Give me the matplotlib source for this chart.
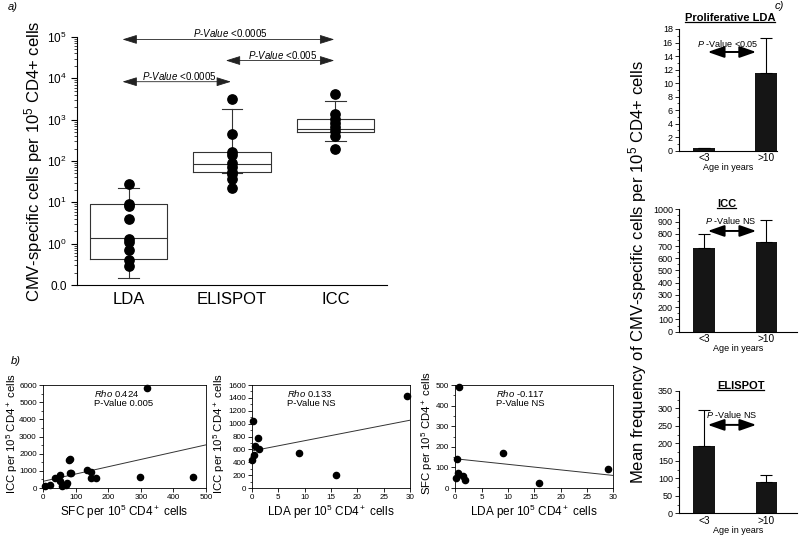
import numpy as np
import matplotlib
matplotlib.use('Agg')
import matplotlib.pyplot as plt
from matplotlib.ticker import FixedLocator, FuncFormatter, MultipleLocator, AutoMinorLocator
from matplotlib.lines import Line2D

plt.rcParams['font.family'] = ['Liberation Sans', 'DejaVu Sans']
plt.rcParams['mathtext.fontset'] = 'custom'
plt.rcParams['mathtext.rm'] = 'Liberation Sans'
plt.rcParams['mathtext.it'] = 'Liberation Sans:italic'
plt.rcParams['mathtext.bf'] = 'Liberation Sans:bold'
plt.rcParams['axes.linewidth'] = 0.8

# a) frequencies by method
methods = ['LDA', 'ELISPOT', 'ICC']
lda_vals = [27.5, 8.9, 8.0, 3.9, 1.3, 1.1, 0.71, 0.41, 0.29]
elispot_vals = [3200, 455, 166, 140, 89, 71, 54, 48, 36, 22]
icc_vals = [4300, 1350, 1050, 815, 675, 530, 400, 193]
box_q1 = [0.43, 54, 510]
box_med = [1.4, 85, 600]
box_q3 = [8.9, 166, 1050]
whisk_lo = [0.15, 52, 307]
whisk_hi = [22, 1860, 2900]
comparisons = [(0, 2), (1, 2), (0, 1)]
comp_p = ['<0.0005', '<0.005', '<0.0005']

# b) correlations
sfc_1 = [7, 22, 38, 53, 51, 58, 73, 70, 79, 84, 82, 87, 135, 148, 148, 162, 298, 461, 318]
icc_1 = [135, 155, 580, 774, 420, 110, 290, 200, 1606, 1683, 870, 870, 1025, 910, 580, 580,
         620, 620, 5800]
lda_2 = [0.1, 1.1, 0.6, 1.4, 0.3, 0.0, 8.9, 16.0, 29.5]
icc_2 = [1043, 778, 649, 602, 514, 430, 545, 197, 1432]
lda_3 = [0.8, 0.4, 0.6, 0.2, 1.5, 1.8, 9.0, 16.0, 29.0]
sfc_3 = [489, 142, 74, 50, 56, 37, 171, 24, 90]
rho = ['0.424', '0.133', '-0.117']
pval = ['0.005', 'NS', 'NS']
fit_icpt = [390, 576, 142]
fit_slope = [4.25, 15.9, -2.7]

# c) by age group
age_groups = ['<3', '>10']
prolif_mean = [0.45, 11.5]
prolif_err = [0, 5.1]
icc_mean = [685, 735]
icc_err = [115, 180]
elispot_mean = [192, 89]
elispot_err = [105, 22]
age_p = ['<0.05', 'NS', 'NS']


def log_fmt(v, pos):
    if v < 0.5:
        return '0.0'
    return '$10^{%d}$' % int(round(np.log10(v)))


fig = plt.figure(figsize=(8, 5.39), dpi=100)

# ---------------- a)
ax = fig.add_axes([0.09625, 0.4712, 0.3875, 0.4601])
ax.set_yscale('log')
stats = []
for i in range(3):
    stats.append(dict(med=box_med[i], q1=box_q1[i], q3=box_q3[i],
                      whislo=whisk_lo[i], whishi=whisk_hi[i], fliers=[]))
lp = dict(color='#333333', lw=0.8)
ax.bxp(stats, positions=[1, 2, 3], widths=0.75, capwidths=0.2, showfliers=False,
       boxprops=lp, whiskerprops=lp, capprops=lp, medianprops=lp)
for i, v in enumerate([lda_vals, elispot_vals, icc_vals]):
    ax.scatter(np.full(len(v), i + 1), v, s=45, color='black', zorder=3)
ax.set_xlim(0.5, 3.5)
ax.set_ylim(0.1, 1e5)
ax.yaxis.set_major_locator(FixedLocator([0.1, 1, 10, 100, 1e3, 1e4, 1e5]))
ax.yaxis.set_major_formatter(FuncFormatter(log_fmt))
ax.set_xticks([1, 2, 3])
ax.set_xticklabels(methods, fontsize=12)
ax.tick_params(axis='x', length=0, pad=5)
ax.tick_params(axis='y', labelsize=8.5, length=4, width=0.8)
ax.tick_params(axis='y', which='minor', length=2, width=0.5)
ax.spines['top'].set_visible(False)
ax.spines['right'].set_visible(False)
ax.set_ylabel('CMV-specific cells per $10^5$ CD4+ cells', fontsize=12)
ax.yaxis.set_label_coords(-0.103, 0.5)

arrow_y = [8.75e4, 2.7e4, 8.3e3]
text_y = [1.25e5, 3.7e4, 1.12e4]
for (i, j), p, ya, yt in zip(comparisons, comp_p, arrow_y, text_y):
    ax.annotate('', xy=(j + 0.99, ya), xytext=(i + 0.94, ya),
                arrowprops=dict(arrowstyle='<|-|>,head_length=0.9,head_width=0.28',
                                color='#222222', lw=0.6, mutation_scale=10,
                                shrinkA=0, shrinkB=0), annotation_clip=False)
    xm = (i + 0.94 + j + 0.99) / 2 + 0.02
    ax.text(xm, yt, r'$\mathit{P}$-$\mathit{Value}$ ' + p, ha='center', va='center', fontsize=7)

fig.text(0.01, 0.987, 'a)', style='italic', fontsize=8, va='center')
fig.text(0.013, 0.33, 'b)', style='italic', fontsize=8, va='center')
fig.text(0.968, 0.988, 'c)', style='italic', fontsize=8, va='center')

# ---------------- b)
sc_rects = [[0.0538, 0.0946, 0.2038, 0.1911],
            [0.315, 0.0946, 0.1975, 0.1911],
            [0.569, 0.0946, 0.1975, 0.1911]]
sc_x = [sfc_1, lda_2, lda_3]
sc_y = [icc_1, icc_2, sfc_3]
sc_xlim = [500, 30, 30]
sc_ylim = [6000, 1600, 500]
sc_xstep = [100, 5, 5]
sc_ystep = [1000, 200, 100]
sc_xlab = ['SFC per $10^5$ CD4$^+$ cells', 'LDA per $10^5$ CD4$^+$ cells',
           'LDA per $10^5$ CD4$^+$ cells']
sc_ylab = ['ICC per $10^5$ CD4$^+$ cells', 'ICC per $10^5$ CD4$^+$ cells',
           'SFC per $10^5$ CD4$^+$ cells']
sc_ylab_x = [-0.14, -0.158, -0.13]
sc_txt_x = [0.31, 0.22, 0.26]
for k in range(3):
    ax = fig.add_axes(sc_rects[k])
    ax.scatter(sc_x[k], sc_y[k], s=20, color='black', zorder=3, clip_on=False)
    xx = np.array([0, sc_xlim[k]])
    ax.plot(xx, fit_icpt[k] + fit_slope[k] * xx, color='#333333', lw=0.7)
    ax.set_xlim(0, sc_xlim[k])
    ax.set_ylim(0, sc_ylim[k])
    ax.xaxis.set_major_locator(MultipleLocator(sc_xstep[k]))
    ax.yaxis.set_major_locator(MultipleLocator(sc_ystep[k]))
    ax.yaxis.set_minor_locator(AutoMinorLocator(2))
    ax.tick_params(labelsize=5.8, length=3, width=0.6, pad=1.5)
    ax.tick_params(which='minor', length=1.5, width=0.5)
    for s in ax.spines.values():
        s.set_linewidth(0.6)
    ax.set_xlabel(sc_xlab[k], fontsize=8.5, labelpad=1)
    ax.set_ylabel(sc_ylab[k], fontsize=8.2)
    ax.yaxis.set_label_coords(sc_ylab_x[k], 0.53)
    ax.text(sc_txt_x[k], 0.92, r'$\mathit{Rho}$ ' + rho[k], transform=ax.transAxes,
            fontsize=6.8, va='center')
    ax.text(sc_txt_x[k], 0.82, 'P-Value ' + pval[k], transform=ax.transAxes,
            fontsize=6.8, va='center')

# ---------------- c)
bar_rects = [[0.849, 0.7204, 0.1225, 0.2258],
             [0.849, 0.3846, 0.1475, 0.2271],
             [0.849, 0.0477, 0.1475, 0.2269]]
bar_means = [prolif_mean, icc_mean, elispot_mean]
bar_errs = [prolif_err, icc_err, elispot_err]
bar_titles = ['Proliferative LDA', 'ICC', 'ELISPOT']
bar_ymax = [18, 1000, 350]
bar_ystep = [2, 100, 50]
bar_xmax = [1.18, 1.5, 1.5]
title_x = [0.52, 0.40, 0.52]
title_y = [1.09, 1.043, 1.043]
arr_y = [14.6, 823, 253]
ptxt_y = [15.9, 907, 284]
ptxt_x = [0.38, 0.42, 0.45]
titles = []
for k in range(3):
    ax = fig.add_axes(bar_rects[k])
    x = np.arange(len(age_groups))
    ax.bar(x, bar_means[k], width=0.34, color='#151515',
           yerr=[np.zeros(len(x)), bar_errs[k]],
           error_kw=dict(ecolor='black', elinewidth=0.8, capsize=4, capthick=0.8))
    ax.set_xlim(-0.4, bar_xmax[k])
    ax.set_ylim(0, bar_ymax[k])
    ax.yaxis.set_major_locator(MultipleLocator(bar_ystep[k]))
    ax.yaxis.set_minor_locator(AutoMinorLocator(2))
    ax.set_xticks(x)
    ax.set_xticklabels(age_groups)
    ax.tick_params(axis='x', length=0, labelsize=7.3, pad=2)
    ax.tick_params(axis='y', labelsize=6.5, length=3, width=0.6, pad=1.5)
    ax.tick_params(axis='y', which='minor', length=1.5, width=0.5)
    ax.spines['top'].set_visible(False)
    ax.spines['right'].set_visible(False)
    ax.set_xlabel('Age in years', fontsize=6.5, labelpad=0)
    t = ax.text(title_x[k], title_y[k], bar_titles[k], transform=ax.transAxes,
                ha='center', va='center', fontsize=8, fontweight='bold')
    titles.append(t)
    ax.annotate('', xy=(0.84, arr_y[k]), xytext=(0.06, arr_y[k]),
                arrowprops=dict(arrowstyle='<|-|>,head_length=1.0,head_width=0.35',
                                color='black', lw=1.4, mutation_scale=10,
                                shrinkA=0, shrinkB=0))
    ax.text(ptxt_x[k], ptxt_y[k], r'$\mathit{P}$ -Value ' + age_p[k], ha='center',
            va='center', fontsize=6.5)

fig.text(0.797, 0.495, 'Mean frequency of CMV-specific cells per $10^5$ CD4+ cells',
         rotation=90, ha='center', va='center', fontsize=12)

# underline the small titles
fig.canvas.draw()
r = fig.canvas.get_renderer()
for t in titles:
    bb = t.get_window_extent(r).transformed(fig.transFigure.inverted())
    fig.add_artist(Line2D([bb.x0, bb.x1], [bb.y0 + 0.002, bb.y0 + 0.002],
                          transform=fig.transFigure, color='black', lw=0.9))

fig.savefig('out.png', dpi=100)
